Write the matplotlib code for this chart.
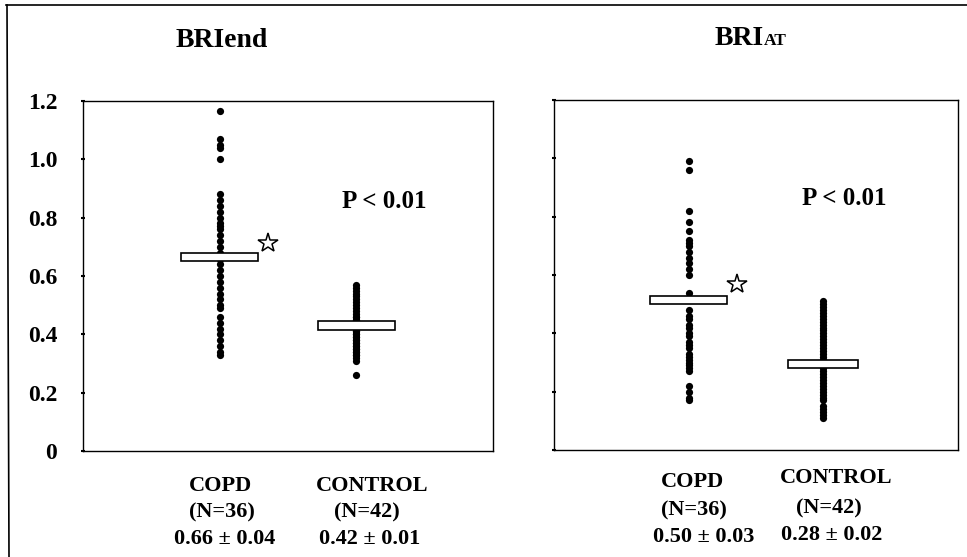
import matplotlib.pyplot as plt
from matplotlib.lines import Line2D

# --------------------------------------------------------------------------- #
# data
# --------------------------------------------------------------------------- #
groups = ["COPD", "CONTROL"]
group_n = ["(N=36)", "(N=42)"]

end_copd = [1.165, 1.07, 1.05, 1.04, 1.00,
            0.88, 0.86, 0.84, 0.82, 0.80, 0.78, 0.77, 0.76, 0.74, 0.72, 0.70, 0.68, 0.67,
            0.66, 0.64, 0.62, 0.60, 0.58, 0.56, 0.54, 0.52, 0.50, 0.49,
            0.46, 0.44, 0.42, 0.40, 0.38, 0.36, 0.34, 0.33]
end_control = [0.57, 0.56, 0.55, 0.54, 0.53, 0.52, 0.51, 0.50, 0.49, 0.48, 0.47,
               0.46, 0.46, 0.45, 0.45, 0.44, 0.44, 0.43, 0.43, 0.42, 0.42, 0.41,
               0.41, 0.40, 0.40, 0.39, 0.39, 0.38, 0.38, 0.37, 0.37, 0.36, 0.36,
               0.35, 0.35, 0.34, 0.34, 0.33, 0.33, 0.32, 0.31, 0.26]
at_copd = [0.99, 0.96, 0.82, 0.78, 0.75, 0.72, 0.71, 0.70, 0.68, 0.66, 0.64, 0.62,
           0.60, 0.54, 0.52, 0.48, 0.46, 0.45, 0.43, 0.42, 0.40, 0.39, 0.37, 0.36,
           0.35, 0.33, 0.32, 0.31, 0.30, 0.29, 0.28, 0.27, 0.22, 0.20, 0.18, 0.17]
at_control = [0.51, 0.50, 0.49, 0.48, 0.47, 0.46, 0.45, 0.44, 0.43, 0.42, 0.41,
              0.40, 0.39, 0.38, 0.37, 0.36, 0.35, 0.34, 0.33, 0.32, 0.31, 0.30,
              0.30, 0.29, 0.29, 0.28, 0.27, 0.26, 0.25, 0.24, 0.23, 0.22, 0.21,
              0.20, 0.19, 0.18, 0.17, 0.15, 0.14, 0.13, 0.12, 0.11]

# drawn box level (mean) per group
end_box = [0.665, 0.43]
at_box = [0.515, 0.295]
end_stats = ["0.66 \u00b1 0.04", "0.42 \u00b1 0.01"]
at_stats = ["0.50 \u00b1 0.03", "0.28 \u00b1 0.02"]

# star marking the significant group (x, y in data units)
end_star = (1.35, 0.713)
at_star = (1.36, 0.569)

yticks = [0, 0.2, 0.4, 0.6, 0.8, 1.0, 1.2]
ytick_labels = ["0", "0.2", "0.4", "0.6", "0.8", "1.0", "1.2"]

W, H = 967, 557
SERIF = ["Liberation Serif", "DejaVu Serif"]

plt.rcParams["font.family"] = SERIF
plt.rcParams["font.weight"] = "bold"

fig = plt.figure(figsize=(W / 100, H / 100), dpi=100)


def px(x, y):
    """pixel position (from top-left) -> figure fraction"""
    return x / W, 1 - y / H


def panel(rect, copd, control, boxes, star, box_w):
    ax = fig.add_axes(rect)
    ax.set_xlim(0, 3)
    ax.set_ylim(0, 1.2)
    for x, vals in zip([1, 2], [copd, control]):
        ax.plot([x] * len(vals), vals, "o", color="black", markersize=5.2,
                markeredgewidth=0, zorder=2)
    ax.bar([1, 2], [0.028, 0.028], bottom=[b - 0.014 for b in boxes], width=box_w,
           facecolor="white", edgecolor="black", linewidth=1.2, zorder=3)
    ax.plot(*star, marker="*", markersize=15, markerfacecolor="white",
            markeredgecolor="black", markeredgewidth=1.1, zorder=4)
    ax.set_xticks([])
    ax.set_yticks(yticks)
    ax.tick_params(axis="y", direction="inout", length=3, width=1.5)
    for s in ax.spines.values():
        s.set_linewidth(1.0)
    return ax


ax1 = panel([83 / W, 1 - 451 / H, 410 / W, 350 / H], end_copd, end_control,
            end_box, end_star, [0.56, 0.56])
ax1.set_yticklabels(ytick_labels, fontsize=17, fontweight="bold")
ax1.tick_params(axis="y", pad=17)

ax2 = panel([554 / W, 1 - 450 / H, 404 / W, 350 / H], at_copd, at_control,
            at_box, at_star, [0.57, 0.52])
ax2.set_yticklabels([])

# titles
fig.text(*px(222, 47), "BRIend", fontsize=20, fontweight="bold",
         ha="center", va="baseline")
fig.text(*px(764, 45), "BRI", fontsize=20, fontweight="bold",
         ha="right", va="baseline")
fig.text(*px(764, 45), "AT", fontsize=12.5, fontweight="bold",
         ha="left", va="baseline")

# p values
fig.text(*px(342, 208), "P < 0.01", fontsize=18, fontweight="bold", va="baseline")
fig.text(*px(802, 205), "P < 0.01", fontsize=18, fontweight="bold", va="baseline")

# group labels below the panels
label_rows = [
    # x, y, text
    (221, 486, groups[0]), (222, 512, group_n[0]), (225, 539, end_stats[0]),
    (372, 486, groups[1]), (367, 512, group_n[1]), (370, 539, end_stats[1]),
    (693, 482, groups[0]), (694, 510, group_n[0]), (704, 537, at_stats[0]),
    (836, 478, groups[1]), (829, 508, group_n[1]), (832, 535, at_stats[1]),
]
for x, y, t in label_rows:
    fig.text(*px(x, y), t, fontsize=16, fontweight="bold", ha="center", va="center")

# outer frame (top and left edges of the scanned page)
fig.add_artist(Line2D([6 / W, 1], [1 - 5 / H, 1 - 5 / H], color="black", linewidth=1.2))
fig.add_artist(Line2D([7 / W, 9 / W], [1 - 5 / H, 0], color="black", linewidth=1.2))

fig.savefig("out.png", dpi=100)
